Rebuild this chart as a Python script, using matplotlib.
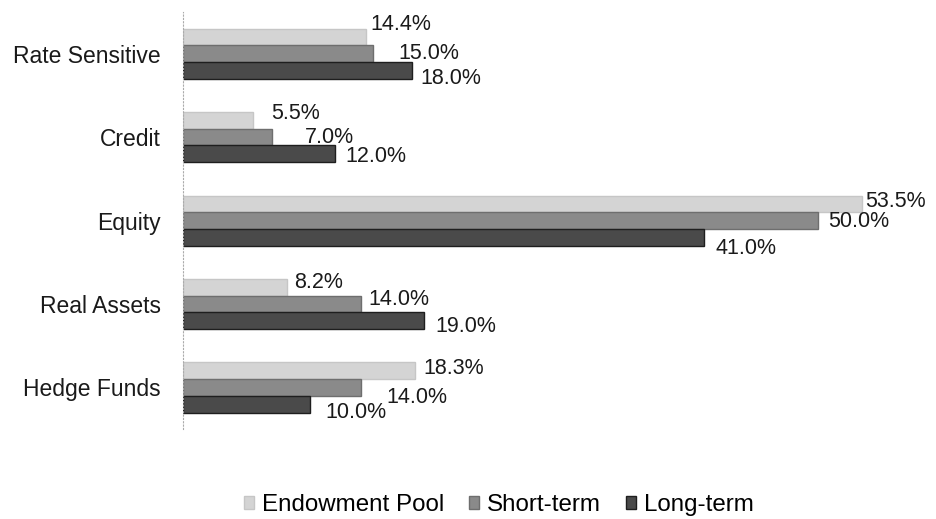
import numpy as np
import matplotlib
matplotlib.use('Agg')
from matplotlib import pyplot as plt

categories = ["Rate Sensitive", "Credit", "Equity", "Real Assets", "Hedge Funds"]
series_names = ["Endowment Pool", "Short-term", "Long-term"]
endowment = [14.4, 5.5, 53.5, 8.2, 18.3]
short_term = [15.0, 7.0, 50.0, 14.0, 14.0]
long_term = [18.0, 12.0, 41.0, 19.0, 10.0]

# hand-placed data label nudges (pixels right / down), one row per series
label_dx = [[5, 18, 3, 7, 8],
            [25, 33, 10, 8, 26],
            [9, 10, 12, 11, 15]]
label_dy = [[-12, -7, -2, -5, -2],
            [0, 0, 1, -5, 10],
            [8, 3, 11, 6, 8]]

plt.rcParams['font.family'] = ['Liberation Sans', 'DejaVu Sans']

fig = plt.figure(figsize=(9.36, 5.19), dpi=100)
ax = fig.add_axes([0.1955, 0.173, 0.746, 0.804])

ypos = np.arange(len(categories))
h = 0.2
colors = ['#d4d4d4', '#8a8a8a', '#4a4a4a']
edges = ['#c6c6c6', '#6e6e6e', '#1e1e1e']
px = 72.0 / fig.dpi

for i, vals in enumerate([endowment, short_term, long_term]):
  y = ypos + (i - 1) * h
  bars = ax.barh(y, vals, height=h, color=colors[i], edgecolor=edges[i],
                 linewidth=1, label=series_names[i])
  for j, (b, v) in enumerate(zip(bars, vals)):
    ax.annotate('%.1f%%' % v, (v, b.get_y() + h / 2),
                xytext=(label_dx[i][j] * px, -label_dy[i][j] * px),
                textcoords='offset points', va='center', ha='left',
                fontsize=15.5, color='#1a1a1a')

ax.set_yticks(ypos)
ax.set_yticklabels(categories, fontsize=16.5, color='#1a1a1a')
ax.set_ylim(len(categories) - 0.5, -0.5)
ax.set_xlim(0, 55)
ax.set_xticks([])
ax.tick_params(axis='y', length=0, pad=16)
for s in ['top', 'right', 'bottom']:
  ax.spines[s].set_visible(False)
ax.spines['left'].set_linestyle((0, (1, 2)))
ax.spines['left'].set_color('#aaaaaa')
ax.spines['left'].set_linewidth(0.8)

fig.legend(loc='center', bbox_to_anchor=(0.533, 0.027), ncol=3, frameon=False,
           fontsize=17.4, handlelength=0.42, handleheight=0.42, handletextpad=0.35,
           columnspacing=1.0)

plt.savefig('out.png', dpi=100)
